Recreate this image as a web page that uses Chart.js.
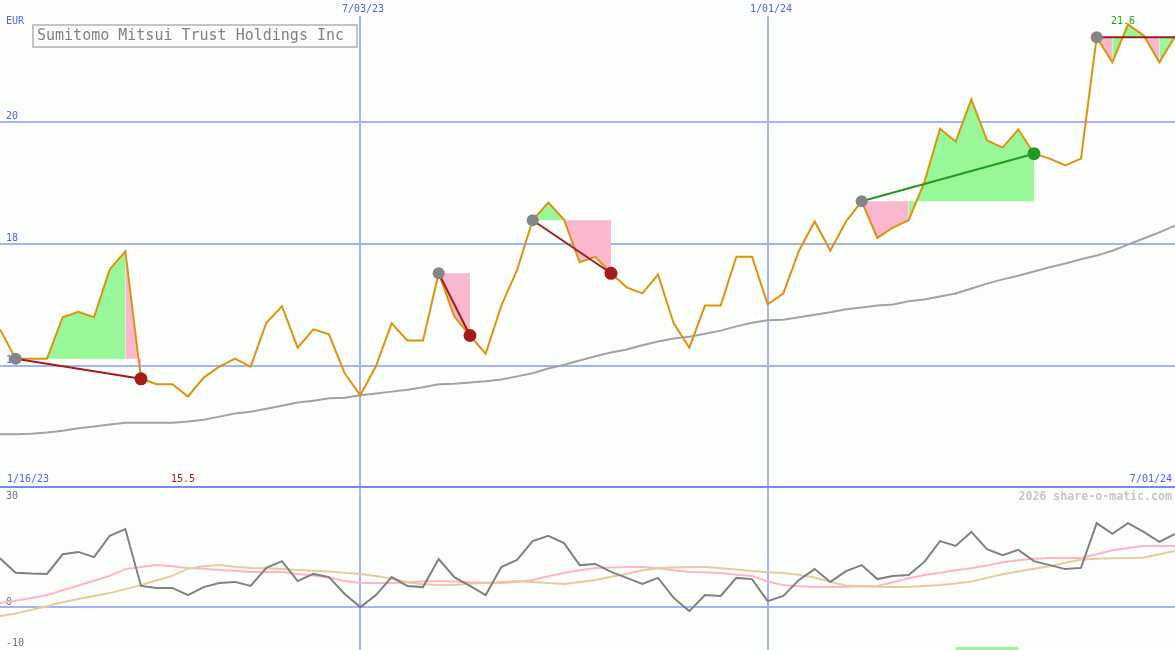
<!DOCTYPE html>
<html><head><meta charset="utf-8">
<script src="https://cdn.jsdelivr.net/npm/chart.js@4.4.0/dist/chart.umd.min.js"></script>
<style>
html,body{margin:0;padding:0;background:#fcfefc;overflow:hidden}
#wrap{position:relative;width:1175px;height:650px;background:#fcfefc}
canvas{position:absolute;left:0;display:block}
#main{top:0}
#lower{top:488px}
</style></head><body>
<div id="wrap"><canvas id="main" width="1175" height="488"></canvas><canvas id="lower" width="1175" height="162"></canvas></div>
<script>
// ---------- data (weekly, week index 0 .. 75) ----------
const title = 'Sumitomo Mitsui Trust Holdings Inc';
const currency = 'EUR';
const startLabel = '1/16/23';
const endLabel = '7/01/24';
const xTickLabels = ['7/03/23', '1/01/24'];
const xTickWeeks = [23, 49];
const yTicks = [16, 18, 20];
const lowerTicks = [30, 0, -10];

const price = [16.60,16.12,16.12,16.12,16.80,16.89,16.80,17.58,17.88,15.79,
  15.70,15.70,15.50,15.81,15.99,16.12,15.99,16.71,16.98,16.30,
  16.60,16.52,15.88,15.52,16.00,16.70,16.42,16.42,17.52,16.81,
  16.50,16.20,16.99,17.57,18.39,18.68,18.40,17.70,17.79,17.52,
  17.29,17.19,17.50,16.70,16.30,16.99,16.99,17.79,17.79,17.01,
  17.19,17.89,18.37,17.89,18.37,18.70,18.10,18.27,18.39,19.01,
  19.89,19.68,20.37,19.70,19.58,19.88,19.48,19.40,19.29,19.40,
  21.39,20.98,21.60,21.42,20.98,21.40];

const movingAvg = [14.88,14.88,14.89,14.91,14.94,14.98,15.01,15.04,15.07,15.07,
  15.07,15.07,15.09,15.12,15.17,15.22,15.25,15.30,15.35,15.40,
  15.43,15.47,15.48,15.52,15.55,15.58,15.61,15.65,15.70,15.71,
  15.73,15.75,15.78,15.83,15.88,15.96,16.02,16.09,16.16,16.22,
  16.27,16.34,16.40,16.45,16.48,16.53,16.58,16.65,16.71,16.75,
  16.76,16.80,16.84,16.88,16.93,16.96,16.99,17.01,17.06,17.09,
  17.14,17.19,17.27,17.35,17.42,17.48,17.55,17.62,17.68,17.75,
  17.81,17.89,17.99,18.09,18.19,18.30];

const momentum = [12.3,8.7,8.5,8.4,13.3,13.9,12.6,17.9,19.6,5.4,
  4.9,4.9,3.1,5.1,6.1,6.4,5.4,9.9,11.6,6.6,
  8.4,7.6,3.4,0.1,3.1,7.6,5.4,5.1,12.1,7.6,
  5.4,3.1,10.1,11.9,16.6,17.9,16.1,10.6,10.9,8.9,
  7.4,5.9,7.4,2.4,-0.9,3.1,2.9,7.4,7.1,1.6,
  2.9,6.9,9.6,6.4,9.1,10.6,7.1,7.9,8.1,11.4,
  16.6,15.4,18.9,14.6,13.1,14.4,11.6,10.6,9.6,9.9,
  21.1,18.4,21.1,18.9,16.4,18.4];

const pinkAvg = [1.1,1.7,2.4,3.1,4.3,5.5,6.7,7.9,9.6,10.1,
  10.6,10.3,9.9,9.7,9.4,9.2,8.9,8.9,8.9,8.4,
  8.0,7.5,6.6,6.1,6.1,6.1,6.3,6.5,6.6,6.5,
  6.3,6.2,6.1,6.4,6.9,7.8,8.6,9.3,9.9,10.0,
  10.1,10.1,9.8,9.3,8.9,8.8,8.6,8.2,7.9,6.5,
  5.6,5.3,5.1,5.1,5.2,5.3,5.4,6.3,7.3,8.1,
  8.7,9.3,9.8,10.5,11.3,11.8,12.2,12.4,12.4,12.4,
  13.3,14.3,14.9,15.4,15.4,15.4];

const tanAvg = [-2.1,-1.5,-0.6,0.3,1.3,2.1,2.9,3.6,4.6,5.6,
  6.8,7.9,9.7,10.3,10.6,10.2,9.9,9.8,9.6,9.4,
  9.2,9.0,8.7,8.4,7.9,7.2,6.3,5.8,5.6,5.6,
  6.0,6.1,6.4,6.6,6.4,6.1,5.9,6.4,6.9,7.7,
  8.4,9.3,9.8,10.0,10.1,10.1,9.8,9.5,9.1,8.8,
  8.6,8.2,7.5,6.4,5.5,5.3,5.2,5.1,5.2,5.4,
  5.6,6.0,6.5,7.4,8.3,9.0,9.7,10.3,11.2,12.0,
  12.2,12.3,12.4,12.5,13.3,14.1];

const tradeEntry = [1, 28, 34, 55, 70];
const tradeExit  = [9, 30, 39, 66, 75];
const tradeOpen  = [false, false, false, false, true];

const signalWeeks = [61, 65];

// ---------- styles ----------
const BG = '#fcfefc';
const GRID = '#a3b3f3';
const AXIS_TXT = '#4f5fef';
const GREEN_FILL = '#98f898';
const PINK_FILL = '#f9b8cd';
const LOSS = '#a31c1c';
const WIN = '#229a22';
const MONO = '"DejaVu Sans Mono", "Liberation Mono", monospace';
const LAST = price.length - 1;

const pts = arr => arr.map((v, i) => ({x: i, y: v}));

// ---------- main chart datasets ----------
const ds = [];
// markers (top)
ds.push({data: tradeEntry.map(e => ({x: e, y: price[e]})), showLine: false,
  pointRadius: 6, pointBackgroundColor: '#858585', pointBorderWidth: 0, order: 0});
const closed = tradeExit.map((x, k) => k).filter(k => !tradeOpen[k]);
ds.push({data: closed.map(k => ({x: tradeExit[k], y: price[tradeExit[k]]})), showLine: false,
  pointRadius: 6.5, pointBorderWidth: 0,
  pointBackgroundColor: closed.map(k => price[tradeExit[k]] > price[tradeEntry[k]] ? WIN : LOSS), order: 0});
// trade lines
tradeEntry.forEach((e, k) => {
  const x2 = tradeExit[k];
  const lvl = price[e];
  const y2 = tradeOpen[k] ? lvl : price[x2];
  const col = tradeOpen[k] ? LOSS : (price[x2] > lvl ? WIN : LOSS);
  ds.push({data: [{x: e, y: lvl}, {x: x2, y: y2}], borderColor: col, borderWidth: 2,
    pointRadius: 0, order: 1});
});
// price + moving average
ds.push({data: pts(price), borderColor: '#dd9210', borderWidth: 2, pointRadius: 0, order: 2});
ds.push({data: pts(movingAvg), borderColor: '#a2a2a2', borderWidth: 2, pointRadius: 0, order: 3});
// trade fills relative to entry level; each week segment coloured by where it ends,
// consecutive segments of one colour merged into one filled run
tradeEntry.forEach((e, k) => {
  const lvl = price[e];
  let run = null, runCol = null;
  for (let j = e; j < tradeExit[k]; j++) {
    const col = price[j + 1] >= lvl ? GREEN_FILL : PINK_FILL;
    if (run && col === runCol) {
      run.push({x: j + 1, y: price[j + 1]});
    } else {
      if (run) ds.push({data: run, borderWidth: 0, borderColor: 'rgba(0,0,0,0)', pointRadius: 0,
        backgroundColor: runCol, fill: {value: lvl}, order: 4});
      run = [{x: j, y: price[j]}, {x: j + 1, y: price[j + 1]}];
      runCol = col;
    }
  }
  if (run) ds.push({data: run, borderWidth: 0, borderColor: 'rgba(0,0,0,0)', pointRadius: 0,
    backgroundColor: runCol, fill: {value: lvl}, order: 4});
});

function txt(ctx, s, x, y, font, color, align) {
  ctx.font = font; ctx.fillStyle = color; ctx.textAlign = align || 'left';
  ctx.textBaseline = 'middle'; ctx.fillText(s, x, y);
}

const mainDecor = {
  id: 'mainDecor',
  beforeDraw(chart) {
    const {ctx} = chart;
    ctx.save(); ctx.fillStyle = BG; ctx.fillRect(0, 0, chart.width, chart.height); ctx.restore();
  },
  beforeDatasetsDraw(chart) {
    const {ctx, scales: {x, y}} = chart;
    ctx.save();
    ctx.lineWidth = 2; ctx.strokeStyle = GRID;
    yTicks.forEach(v => {
      const py = Math.round(y.getPixelForValue(v));
      ctx.beginPath(); ctx.moveTo(0, py); ctx.lineTo(chart.width, py); ctx.stroke();
      txt(ctx, String(v), 6, py - 5.5, '10px ' + MONO, AXIS_TXT);
    });
    xTickWeeks.forEach((w, k) => {
      const px = Math.round(x.getPixelForValue(w));
      ctx.strokeStyle = GRID;
      ctx.beginPath(); ctx.moveTo(px, 16); ctx.lineTo(px, chart.height); ctx.stroke();
      txt(ctx, xTickLabels[k], px + 3, 9, '10px ' + MONO, AXIS_TXT, 'center');
    });
    txt(ctx, currency, 6, 21, '10px ' + MONO, AXIS_TXT);
    txt(ctx, startLabel, 7, 479, '10px ' + MONO, AXIS_TXT);
    txt(ctx, endLabel, 1172, 479, '10px ' + MONO, AXIS_TXT, 'right');
    ctx.strokeStyle = '#7888ec'; ctx.lineWidth = 2;
    ctx.beginPath(); ctx.moveTo(0, chart.height - 1); ctx.lineTo(chart.width, chart.height - 1); ctx.stroke();
    ctx.restore();
  },
  afterDatasetsDraw(chart) {
    const {ctx, scales: {x}} = chart;
    ctx.save();
    let mi = 0, ma = 0;
    price.forEach((v, i) => { if (v < price[mi]) mi = i; if (v > price[ma]) ma = i; });
    txt(ctx, price[mi].toFixed(1), x.getPixelForValue(mi) - 5, 479, '10px ' + MONO, '#a01818', 'center');
    txt(ctx, price[ma].toFixed(1), x.getPixelForValue(ma) - 5, 21, '10px ' + MONO, '#20a020', 'center');
    ctx.fillStyle = BG; ctx.fillRect(33, 25, 324, 22);
    ctx.strokeStyle = '#c4c4c4'; ctx.lineWidth = 2; ctx.strokeRect(33, 25, 324, 22);
    txt(ctx, title, 37, 36.5, '15px ' + MONO, '#808080');
    ctx.restore();
  }
};

const common = {
  responsive: false, devicePixelRatio: 1, animation: false, events: [],
  layout: {padding: 0, autoPadding: false},
  plugins: {legend: {display: false}, tooltip: {enabled: false}},
  elements: {line: {tension: 0, borderCapStyle: 'butt'}}
};

new Chart(document.getElementById('main'), {
  type: 'line',
  data: {datasets: ds},
  options: Object.assign({}, common, {
    scales: {
      x: {type: 'linear', min: 0, max: LAST, display: false},
      y: {type: 'linear', min: 14, max: 22, display: false}
    }
  }),
  plugins: [mainDecor]
});

// ---------- lower panel ----------
const lowerDecor = {
  id: 'lowerDecor',
  beforeDraw(chart) {
    const {ctx} = chart;
    ctx.save(); ctx.fillStyle = BG; ctx.fillRect(0, 0, chart.width, chart.height); ctx.restore();
  },
  beforeDatasetsDraw(chart) {
    const {ctx, scales: {x, y}} = chart;
    ctx.save();
    ctx.lineWidth = 2; ctx.strokeStyle = GRID;
    const p0 = Math.round(y.getPixelForValue(0));
    ctx.beginPath(); ctx.moveTo(0, p0); ctx.lineTo(chart.width, p0); ctx.stroke();
    xTickWeeks.forEach(w => {
      const px = Math.round(x.getPixelForValue(w));
      ctx.beginPath(); ctx.moveTo(px, 0); ctx.lineTo(px, chart.height); ctx.stroke();
    });
    const pos = {30: 8, 0: p0 - 5, '-10': 155};
    lowerTicks.forEach(v => txt(ctx, String(v), 6, pos[v], '10px ' + MONO, '#707070'));
    txt(ctx, '2026 share-o-matic.com', 1172, 8.5, 'bold 11.6px ' + MONO, '#c6c6c6', 'right');
    ctx.restore();
  }
};

new Chart(document.getElementById('lower'), {
  type: 'line',
  data: {datasets: [
    {data: pts(momentum), borderColor: '#808080', borderWidth: 2, pointRadius: 0, order: 0},
    {data: pts(tanAvg), borderColor: '#e4cc9c', borderWidth: 2, pointRadius: 0, order: 1},
    {data: pts(pinkAvg), borderColor: '#ffb4c8', borderWidth: 2, pointRadius: 0, order: 2},
    {data: [{x: signalWeeks[0], y: -10.25}, {x: signalWeeks[1], y: -10.25}],
      borderColor: GREEN_FILL, borderWidth: 3, pointRadius: 0, order: 3}
  ]},
  options: Object.assign({}, common, {
    scales: {
      x: {type: 'linear', min: 0, max: LAST, display: false},
      y: {type: 'linear', min: -10.625, max: 29.875, display: false}
    }
  }),
  plugins: [lowerDecor]
});
</script>
</body></html>
